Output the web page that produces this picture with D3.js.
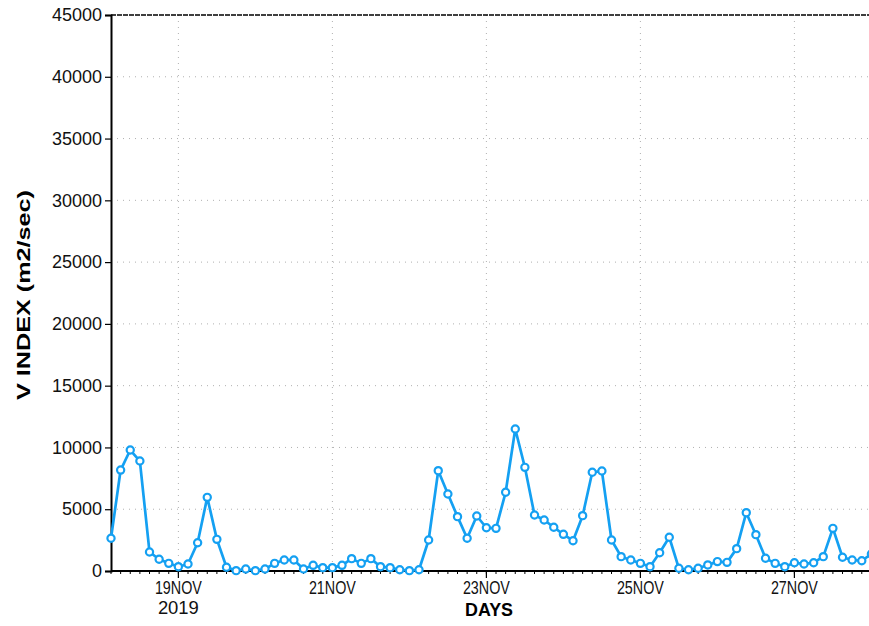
<!DOCTYPE html>
<html>
<head>
<meta charset="utf-8">
<script src="https://cdn.jsdelivr.net/npm/d3@7"></script>
<style>
  body { margin: 0; background: #fff; }
  text { font-family: "Liberation Sans", Arial, sans-serif; }
</style>
</head>
<body>
<div id="chart"></div>
<script>
// 3-hourly values starting 18NOV2019 03Z
const startTime = "2019-11-18T03:00:00Z";
const stepHours = 3;
const vIndex = [
  2650, 8170, 9790, 8900, 1540, 950, 620, 350,
  570, 2290, 5960, 2560, 300, 30, 160, 30,
  160, 620, 890, 890, 160, 460, 270, 270,
  460, 1000, 620, 1000, 350, 270, 100, 30,
  100, 2510, 8120, 6230, 4400, 2650, 4450, 3500,
  3450, 6370, 11490, 8390, 4530, 4130, 3540, 2970,
  2450, 4480, 7990, 8090, 2510, 1160, 890, 620,
  350, 1480, 2730, 220, 100, 220, 490, 760,
  700, 1810, 4720, 2940, 1030, 620, 350, 670,
  570, 670, 1160, 3450, 1110, 890, 830, 1380
];
const yTicks = [0, 5000, 10000, 15000, 20000, 25000, 30000, 35000, 40000, 45000];
const xTickDates = ["2019-11-19", "2019-11-21", "2019-11-23", "2019-11-25", "2019-11-27"];
const xTickLabels = ["19NOV", "21NOV", "23NOV", "25NOV", "27NOV"];

const width = 869, height = 626;
const plotLeft = 111, plotRight = 871.4, plotTop = 15, plotBottom = 571;
const lineColor = "#14a0f2";

const t0 = new Date(startTime);
const data = vIndex.map((v, i) => ({ t: new Date(t0.getTime() + i * stepHours * 3600e3), v }));
const dayDate = d => new Date(d + "T00:00:00Z");

const svg = d3.select("#chart").append("svg")
  .attr("width", width)
  .attr("height", height);

const x = d3.scaleUtc()
  .domain([data[0].t, data[data.length - 1].t])
  .range([plotLeft, plotRight]);

const y = d3.scaleLinear()
  .domain([0, 45000])
  .range([plotBottom, plotTop]);

// grid
svg.append("g")
  .selectAll("line")
  .data(yTicks.slice(1, -1))
  .enter().append("line")
  .attr("x1", plotLeft).attr("x2", width)
  .attr("y1", d => y(d)).attr("y2", d => y(d))
  .attr("stroke", "#b0b0b0")
  .attr("stroke-width", 1)
  .attr("stroke-dasharray", "1,5");

svg.append("g")
  .selectAll("line")
  .data(xTickDates)
  .enter().append("line")
  .attr("x1", d => x(dayDate(d))).attr("x2", d => x(dayDate(d)))
  .attr("y1", plotTop).attr("y2", plotBottom)
  .attr("stroke", "#b0b0b0")
  .attr("stroke-width", 1)
  .attr("stroke-dasharray", "1,5");

// top border, dashed
svg.append("line")
  .attr("x1", plotLeft).attr("x2", width)
  .attr("y1", plotTop).attr("y2", plotTop)
  .attr("stroke", "#000")
  .attr("stroke-width", 1.4)
  .attr("stroke-dasharray", "5,1");

// y axis
const yAxis = svg.append("g")
  .attr("transform", `translate(${plotLeft},0)`)
  .call(d3.axisLeft(y).tickValues(yTicks).tickSize(6).tickFormat(d3.format("d")));
yAxis.select(".domain").attr("stroke-width", 2);
yAxis.selectAll(".tick line").attr("stroke-width", 1.2);
yAxis.selectAll(".tick text")
  .attr("x", -9)
  .style("font-size", "18px")
  .style("font-family", "Liberation Sans, Arial, sans-serif")
  .attr("fill", "#111");

// x axis: minor ticks every 3 h, major at labelled days
const minor = d3.utcHour.every(3).range(x.domain()[0], new Date(x.domain()[1].getTime() + 1));
svg.append("g")
  .selectAll("line")
  .data(minor)
  .enter().append("line")
  .attr("x1", d => x(d)).attr("x2", d => x(d))
  .attr("y1", plotBottom).attr("y2", plotBottom + 3)
  .attr("stroke", "#000")
  .attr("stroke-width", 1);

svg.append("line")
  .attr("x1", plotLeft).attr("x2", width)
  .attr("y1", plotBottom).attr("y2", plotBottom)
  .attr("stroke", "#000")
  .attr("stroke-width", 2);

const xt = svg.append("g")
  .selectAll("g")
  .data(xTickDates)
  .enter().append("g")
  .attr("transform", d => `translate(${x(dayDate(d))},0)`);
xt.append("line")
  .attr("y1", plotBottom).attr("y2", plotBottom + 7)
  .attr("stroke", "#000")
  .attr("stroke-width", 1.2);
xt.append("text")
  .attr("y", 594)
  .attr("text-anchor", "middle")
  .attr("textLength", 47)
  .attr("lengthAdjust", "spacingAndGlyphs")
  .attr("fill", "#111")
  .style("font-size", "19px")
  .text((d, i) => xTickLabels[i]);

svg.append("text")
  .attr("x", x(dayDate(xTickDates[0])))
  .attr("y", 614)
  .attr("text-anchor", "middle")
  .attr("textLength", 41)
  .attr("lengthAdjust", "spacingAndGlyphs")
  .attr("fill", "#111")
  .style("font-size", "19px")
  .text("2019");

// axis titles
svg.append("text")
  .attr("x", 489)
  .attr("y", 616)
  .attr("text-anchor", "middle")
  .attr("textLength", 48)
  .attr("lengthAdjust", "spacingAndGlyphs")
  .style("font-size", "19px")
  .style("font-weight", "bold")
  .text("DAYS");

svg.append("text")
  .attr("transform", "translate(30,295) rotate(-90)")
  .attr("text-anchor", "middle")
  .attr("textLength", 210)
  .attr("lengthAdjust", "spacingAndGlyphs")
  .style("font-size", "19px")
  .style("font-weight", "bold")
  .text("V INDEX (m2/sec)");

// series
const line = d3.line()
  .x(d => x(d.t))
  .y(d => y(d.v));

svg.append("path")
  .datum(data)
  .attr("d", line)
  .attr("fill", "none")
  .attr("stroke", lineColor)
  .attr("stroke-width", 2.7)
  .attr("stroke-linejoin", "round");

svg.append("g")
  .selectAll("circle")
  .data(data)
  .enter().append("circle")
  .attr("cx", d => x(d.t))
  .attr("cy", d => y(d.v))
  .attr("r", 3.6)
  .attr("fill", "#fff")
  .attr("stroke", lineColor)
  .attr("stroke-width", 2.2);
</script>
</body>
</html>
